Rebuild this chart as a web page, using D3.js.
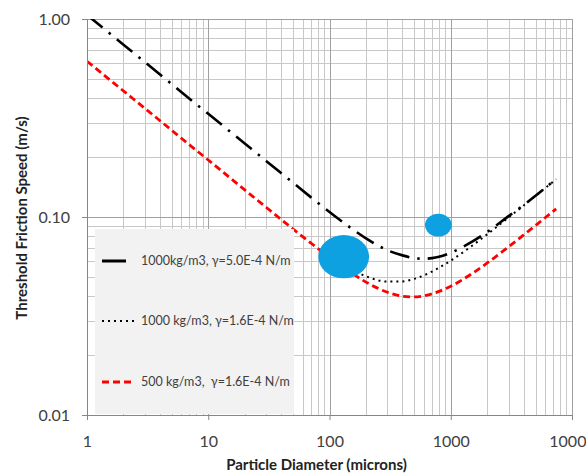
<!DOCTYPE html>
<html>
<head>
<meta charset="utf-8">
<script src="https://cdn.jsdelivr.net/npm/d3@7"></script>
<style>
  body { margin: 0; background: #fff; }
  text { font-family: Lato, "Open Sans", sans-serif; }
</style>
</head>
<body>
<svg id="chart" width="586" height="474"></svg>
<script>
// particle diameters (microns)
const diameters = [1, 2, 3, 5, 7, 10, 20, 30, 50, 70, 100, 150, 200, 300, 400, 500, 600, 700, 800, 1000, 1500, 2000, 3000, 4000, 5000, 6000, 7400];

// 1000 kg/m3, gamma = 5.0E-4 N/m
const speedHeavyHigh = [1.049, 0.742, 0.606, 0.469, 0.396, 0.332, 0.235, 0.192, 0.149, 0.126, 0.106, 0.088, 0.078, 0.068, 0.064, 0.062, 0.0615, 0.062, 0.063, 0.066, 0.075, 0.084, 0.101, 0.115, 0.128, 0.140, 0.156];

// 1000 kg/m3, gamma = 1.6E-4 N/m (only shows from ~150 microns)
const diametersDotted = [150, 200, 300, 400, 500, 600, 700, 800, 1000, 1500, 2000, 3000, 4000, 5000, 6000, 7400];
const speedHeavyLow = [0.0547, 0.0502, 0.0472, 0.0473, 0.0487, 0.0507, 0.0530, 0.0554, 0.0602, 0.0716, 0.0818, 0.0994, 0.1144, 0.1278, 0.1399, 0.1552];

// 500 kg/m3, gamma = 1.6E-4 N/m
const speedLightLow = [0.612, 0.433, 0.354, 0.274, 0.2315, 0.194, 0.137, 0.112, 0.087, 0.074, 0.0626, 0.0524, 0.0469, 0.0417, 0.0398, 0.0395, 0.0400, 0.0409, 0.0421, 0.0447, 0.0518, 0.0586, 0.0707, 0.0812, 0.0906, 0.0991, 0.110];

// bubbles
const bubbleDiam = [131, 790];
const bubbleSpeed = [0.063, 0.091];
const bubbleSize = [3.6, 1];

const legendLabels = [
  "1000kg/m3, \u03b3=5.0E-4 N/m",
  "1000 kg/m3, \u03b3=1.6E-4 N/m",
  "500 kg/m3,  \u03b3=1.6E-4 N/m"
];

const xTicks = [1, 10, 100, 1000, 10000];
const yTicks = [0.01, 0.1, 1];

const svg = d3.select("#chart");
const margin = { top: 19, right: 14, bottom: 59, left: 87 };
const width = +svg.attr("width") - margin.left - margin.right;
const height = +svg.attr("height") - margin.top - margin.bottom;

const x = d3.scaleLog().domain([1, 10000]).range([margin.left, margin.left + width]);
const y = d3.scaleLog().domain([0.01, 1]).range([margin.top + height, margin.top]);

// gridlines (minor then major)
const minorX = [], minorY = [];
for (let p = 1; p < 10000; p *= 10) for (let k = 2; k < 10; k++) minorX.push(p * k);
for (let p = 0.01; p < 1; p *= 10) for (let k = 2; k < 10; k++) minorY.push(p * k);

const grid = svg.append("g");
grid.selectAll(".mx").data(minorX).enter().append("line")
  .attr("x1", d => Math.round(x(d)) + 0.5).attr("x2", d => Math.round(x(d)) + 0.5)
  .attr("y1", margin.top).attr("y2", margin.top + height)
  .attr("stroke", "#c8c8c8");
grid.selectAll(".my").data(minorY).enter().append("line")
  .attr("y1", d => Math.round(y(d)) + 0.5).attr("y2", d => Math.round(y(d)) + 0.5)
  .attr("x1", margin.left).attr("x2", margin.left + width)
  .attr("stroke", "#c8c8c8");
grid.selectAll(".Mx").data(xTicks).enter().append("line")
  .attr("x1", d => Math.round(x(d)) + 0.5).attr("x2", d => Math.round(x(d)) + 0.5)
  .attr("y1", margin.top).attr("y2", margin.top + height)
  .attr("stroke", "#a0a0a0");
grid.selectAll(".My").data(yTicks).enter().append("line")
  .attr("y1", d => Math.round(y(d)) + 0.5).attr("y2", d => Math.round(y(d)) + 0.5)
  .attr("x1", margin.left).attr("x2", margin.left + width)
  .attr("stroke", "#a0a0a0");

// clip to plot area
svg.append("clipPath").attr("id", "plot-clip")
  .append("rect")
  .attr("x", margin.left).attr("y", margin.top)
  .attr("width", width).attr("height", height);

const line = d3.line()
  .x(d => x(d[0]))
  .y(d => y(d[1]))
  .curve(d3.curveMonotoneX);

const series = [
  { xs: diameters, ys: speedHeavyHigh, color: "#000", dash: "20,8,2.5,8", w: 2.6 },
  { xs: diametersDotted, ys: speedHeavyLow, color: "#000", dash: "2,4", w: 2 },
  { xs: diameters, ys: speedLightLow, color: "#ff0000", dash: "7,4", w: 2.8 }
];

const plot = svg.append("g").attr("clip-path", "url(#plot-clip)");
plot.selectAll(".series").data(series).enter().append("path")
  .attr("fill", "none")
  .attr("stroke", d => d.color)
  .attr("stroke-width", d => d.w)
  .attr("stroke-dasharray", d => d.dash)
  .attr("d", d => line(d.xs.map((v, i) => [v, d.ys[i]])));

// bubbles
const r = d3.scaleSqrt().domain([0, 3.6]).range([0, 23.5]);
plot.selectAll(".bubble").data(bubbleDiam).enter().append("ellipse")
  .attr("cx", (d, i) => x(d))
  .attr("cy", (d, i) => y(bubbleSpeed[i]))
  .attr("rx", (d, i) => r(bubbleSize[i]) * 1.08)
  .attr("ry", (d, i) => r(bubbleSize[i]) * 0.92)
  .attr("fill", "#0ea1e2");

// axes
const xAxis = svg.append("g")
  .attr("transform", `translate(0, ${margin.top + height})`)
  .call(d3.axisBottom(x).tickValues(xTicks).tickFormat(d3.format("d")).tickSize(5).tickPadding(16));
const yAxis = svg.append("g")
  .attr("transform", `translate(${margin.left}, 0)`)
  .call(d3.axisLeft(y).tickValues(yTicks).tickFormat(d3.format(".2f")).tickSize(5).tickPadding(12));

[xAxis, yAxis].forEach(a => {
  a.select(".domain").attr("stroke", "#868686");
  a.selectAll(".tick line").attr("stroke", "#868686");
  a.selectAll(".tick text").attr("fill", "#404040").style("font-size", "16px");
});

// legend
const legend = svg.append("g");
legend.append("rect")
  .attr("x", 95).attr("y", 229).attr("width", 199).attr("height", 185)
  .attr("fill", "#f2f2f2");

const legendY = [261, 321, 382];
const sampleLen = [24, 32, 32];
const sampleDash = ["none", "2,4", "7,4"];
legend.selectAll(".sample").data(series).enter().append("line")
  .attr("x1", 102).attr("x2", (d, i) => 102 + sampleLen[i])
  .attr("y1", (d, i) => legendY[i]).attr("y2", (d, i) => legendY[i])
  .attr("stroke", d => d.color)
  .attr("stroke-width", (d, i) => i === 0 ? 3 : d.w)
  .attr("stroke-dasharray", (d, i) => sampleDash[i]);
legend.selectAll(".label").data(legendLabels).enter().append("text")
  .attr("x", 141).attr("y", (d, i) => legendY[i])
  .attr("dy", "0.35em")
  .attr("fill", "#404040")
  .style("font-size", "12.5px")
  .style("white-space", "pre")
  .text(d => d);

// axis titles
svg.append("text")
  .attr("x", margin.left + width / 2 - 13).attr("y", 470)
  .attr("text-anchor", "middle")
  .attr("fill", "#222")
  .style("font-size", "15px").style("font-weight", "bold")
  .text("Particle Diameter (microns)");
svg.append("text")
  .attr("transform", "translate(27, 218) rotate(-90)")
  .attr("text-anchor", "middle")
  .attr("fill", "#222")
  .style("font-size", "15px").style("font-weight", "bold")
  .text("Threshold Friction Speed (m/s)");
</script>
</body>
</html>
